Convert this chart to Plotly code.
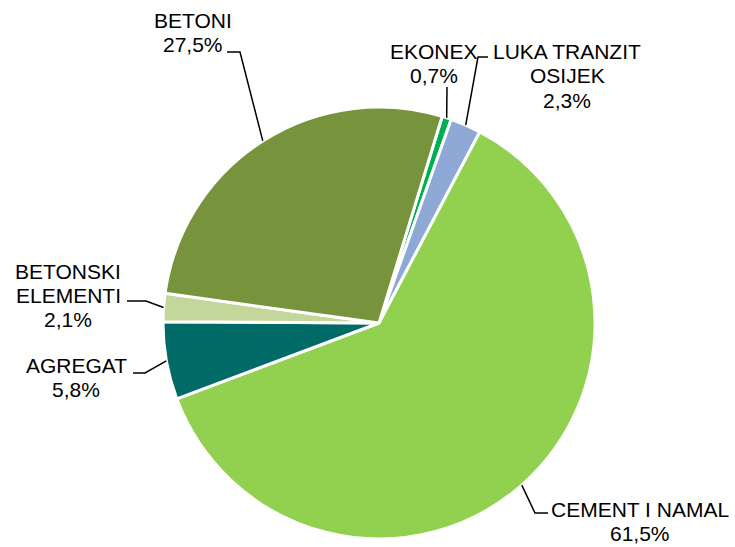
import math
import plotly.graph_objects as go

labels = ["EKONEX", "LUKA TRANZIT<br>OSIJEK", "CEMENT I NAMAL", "AGREGAT", "BETONSKI<br>ELEMENTI", "BETONI"]
values = [0.7, 2.3, 61.5, 5.8, 2.1, 27.5]
colors = ["#00B050", "#8EA9D6", "#92D050", "#006B66", "#C4D79B", "#77933C"]

W, H = 735, 547
CX, CY, R = 379, 323, 216
ROT = 17
LINE_H = 24
FONT = dict(family="Liberation Sans, Arial", size=21, color="black")

# label placement (pixel positions: text centre, elbow, end of leader)
label_pos = [(434, 64), (567, 76), (640, 521), (76, 377), (68, 295), (193, 32)]
leader_pts = [
    [(447, 87)],
    [(478, 57), (488, 57)],
    [(535, 513), (548, 513)],
    [(145, 373), (133, 373)],
    [(146, 301), (127, 301)],
    [(240, 52), (227, 52)],
]

fig = go.Figure(go.Pie(
    labels=labels, values=values, sort=False, direction="clockwise",
    rotation=ROT, textinfo="none", hoverinfo="label+percent",
    marker=dict(colors=colors, line=dict(color="white", width=3)),
    domain=dict(x=[(CX - R) / W, (CX + R) / W], y=[1 - (CY + R) / H, 1 - (CY - R) / H]),
    showlegend=False,
))

def px2paper(x, y):
    return x / W, 1 - y / H

total = sum(values)
cum = 0
shapes, annotations = [], []
for lab, v, (tx, ty), pts in zip(labels, values, label_pos, leader_pts):
    mid = math.radians(ROT + (cum + v / 2) / total * 360)
    cum += v
    ex, ey = CX + R * math.sin(mid), CY - R * math.cos(mid)
    path_pts = [(ex, ey)] + pts
    d = ""
    for i, (x, y) in enumerate(path_pts):
        px, py = px2paper(x, y)
        d += ("M" if i == 0 else " L") + f" {px:.5f},{py:.5f}"
    shapes.append(dict(type="path", path=d, xref="paper", yref="paper",
                       line=dict(color="black", width=1.5)))
    pct = f"{v:.1f}".replace(".", ",") + "%"
    lines = lab.split("<br>") + [pct]
    n = len(lines)
    for i, s in enumerate(lines):
        ly = ty + (i - (n - 1) / 2) * LINE_H
        ax, ay = px2paper(tx, ly)
        annotations.append(dict(text=s, x=ax, y=ay, xref="paper", yref="paper",
                                showarrow=False, xanchor="center", yanchor="middle",
                                font=FONT))

fig.update_layout(
    width=W, height=H, margin=dict(l=0, r=0, t=0, b=0),
    paper_bgcolor="white", plot_bgcolor="white",
    shapes=shapes, annotations=annotations,
)
fig.write_html("out.html", config={"displayModeBar": False},
               post_script="document.body.style.margin='0';")
